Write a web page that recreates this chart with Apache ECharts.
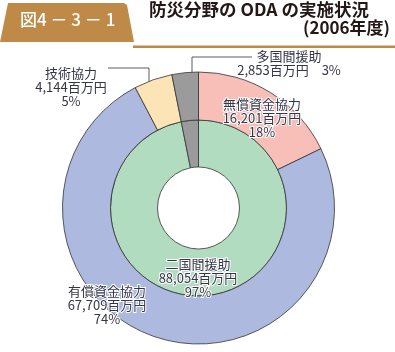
<!DOCTYPE html>
<html><head><meta charset="utf-8">
<script src="https://cdn.jsdelivr.net/npm/echarts@6/dist/echarts.min.js"></script>
<style>html,body{margin:0;padding:0;background:#fff}#c{width:395px;height:352px}</style>
</head><body><div id="c"></div>
<script>
// ---- data ----
const outerNames = ['無償資金協力', '有償資金協力', '技術協力', '多国間援助'];
const outerValues = [16201, 67709, 4144, 2853];
const innerNames = ['二国間援助', '多国間援助'];
const innerValues = [88054, 2853];
const figureNo = '図4 － 3 － 1';
const titleText = '防災分野の ODA の実施状況';
const subTitle = '(2006年度)';
const unit = '百万円';

// ---- styles / layout ----
const outerColors = ['#f8bfb8', '#adb9de', '#fde4b6', '#9b9b9b'];
const innerColors = ['#b2dcc0', '#9b9b9b'];
const tan = '#bf8a48';
const FONT = '"Noto Sans CJK JP", "Noto Sans", sans-serif';
const center = [198.5, 208];
const outerLabelPos = [
  { x: 262, y: 118 },
  { x: 107, y: 305 },
  { x: 71, y: 87, line: [[108, 68], [149, 68], [149, 102]] },
  { x: 289, y: 63, line: [[252, 57], [192, 57], [192, 85]] }
];
const innerLabelPos = [{ x: 198, y: 278 }, null];

const fmt = v => v.toLocaleString('en-US');
const labelBase = {
  fontFamily: FONT, fontSize: 13, lineHeight: 14, color: '#35354a',
  textBorderColor: '#fff', textBorderWidth: 2, align: 'center'
};

function layoutFn(posArr) {
  return function (p) {
    const pos = posArr[p.dataIndex];
    if (!pos) return {};
    const r = { x: pos.x, y: pos.y, align: 'center', verticalAlign: 'middle', hideOverlap: false, moveOverlap: null };
    if (pos.line) r.labelLinePoints = pos.line;
    return r;
  };
}

const chart = echarts.init(document.getElementById('c'), null, { renderer: 'canvas' });
chart.setOption({
  backgroundColor: '#fff',
  animation: false,
  graphic: [
    { type: 'polygon', shape: { points: [[0, 42], [8, 3], [124, 3], [127, 5], [134, 42]] }, style: { fill: tan } },
    { type: 'rect', shape: { x: 133, y: 45.5, width: 262, height: 2.5 }, style: { fill: tan } },
    { type: 'text', left: 20, top: 11, style: { text: figureNo, fill: '#fff', font: '500 17px ' + FONT } },
    { type: 'text', left: 149, top: 1, style: { text: titleText, fill: '#231815', font: 'bold 17.5px ' + FONT } },
    { type: 'text', right: 5, top: 19, style: { text: subTitle, fill: '#231815', font: 'bold 17px ' + FONT } }
  ],
  series: [
    {
      type: 'pie', silent: true, center: center, radius: [41, 88], startAngle: 90, clockwise: true,
      percentPrecision: 0, avoidLabelOverlap: false,
      itemStyle: { borderColor: '#333', borderWidth: 0.8 },
      label: Object.assign({ show: true, position: 'inside',
        formatter: p => p.name + '\n' + fmt(p.value) + unit + '\n' + p.percent + '%' }, labelBase),
      labelLine: { show: false },
      labelLayout: layoutFn(innerLabelPos),
      data: innerNames.map((n, i) => ({
        name: n, value: innerValues[i], itemStyle: { color: innerColors[i] },
        label: i === 1 ? { show: false } : undefined
      }))
    },
    {
      type: 'pie', silent: true, center: center, radius: [88, 136], startAngle: 90, clockwise: true,
      percentPrecision: 0, avoidLabelOverlap: false,
      itemStyle: { borderColor: '#333', borderWidth: 0.8 },
      label: Object.assign({ show: true, position: 'inside',
        formatter: p => p.name === '多国間援助'
          ? p.name + '\n' + fmt(p.value) + unit + '　' + p.percent + '%'
          : p.name + '\n' + fmt(p.value) + unit + '\n' + p.percent + '%' }, labelBase),
      labelLine: { show: false },
      labelLayout: layoutFn(outerLabelPos),
      data: outerNames.map((n, i) => {
        const d = { name: n, value: outerValues[i], itemStyle: { color: outerColors[i] } };
        if (outerLabelPos[i].line) {
          d.label = { position: 'outside' };
          d.labelLine = { show: true, length: 10, length2: 10, smooth: false, lineStyle: { color: '#333', width: 0.8 } };
        }
        return d;
      })
    }
  ]
});
</script></body></html>
